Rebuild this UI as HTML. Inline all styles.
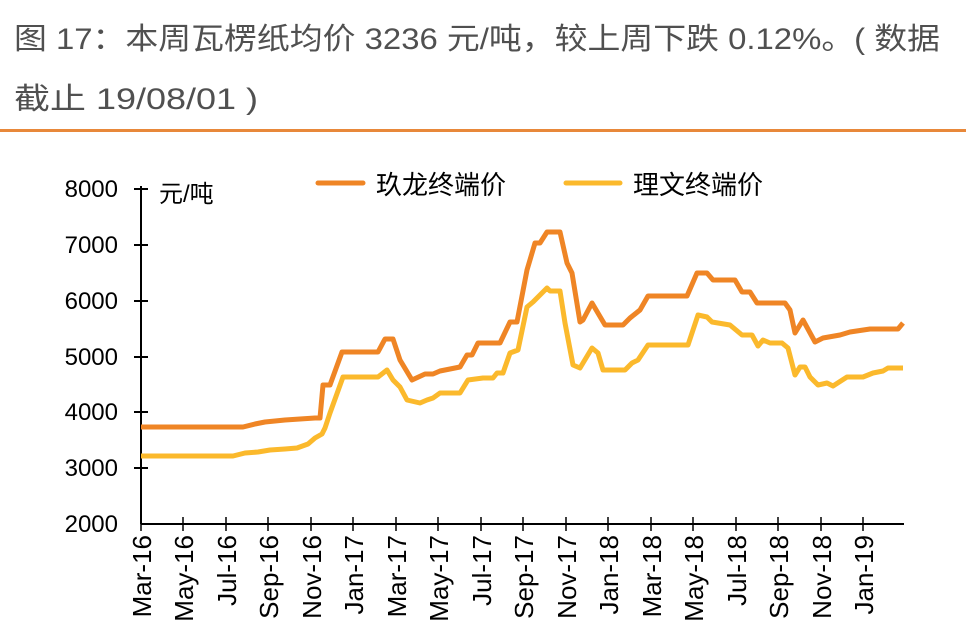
<!DOCTYPE html>
<html><head><meta charset="utf-8"><style>
body{margin:0;background:#fff;width:966px;height:638px;overflow:hidden}
svg{display:block}
</style></head><body>
<svg width="966" height="638" xmlns="http://www.w3.org/2000/svg" font-family="Liberation Sans, Noto Sans CJK SC, sans-serif">
<text x="14" y="49" font-size="30" fill="#505050" textLength="926" lengthAdjust="spacingAndGlyphs">图 17：本周瓦楞纸均价 3236 元/吨，较上周下跌 0.12%。( 数据</text>
<text x="14" y="109" font-size="30" fill="#505050" textLength="244" lengthAdjust="spacingAndGlyphs">截止 19/08/01 )</text>
<rect x="0" y="129" width="966" height="3" fill="#e8883a"/>
<g font-size="24" fill="#000" text-anchor="end">
<text x="118" y="197">8000</text><text x="118" y="253">7000</text><text x="118" y="309">6000</text>
<text x="118" y="365">5000</text><text x="118" y="420">4000</text><text x="118" y="476">3000</text><text x="118" y="532">2000</text>
</g>
<text x="159" y="202" font-size="24" fill="#000">元/吨</text>
<g stroke="#000" stroke-width="2">
<line x1="141" y1="186" x2="141" y2="524"/>
<line x1="141" y1="524" x2="904" y2="524"/>
<line x1="134" y1="189" x2="148" y2="189"/><line x1="134" y1="245" x2="148" y2="245"/><line x1="134" y1="301" x2="148" y2="301"/>
<line x1="134" y1="357" x2="148" y2="357"/><line x1="134" y1="412" x2="148" y2="412"/><line x1="134" y1="468" x2="148" y2="468"/>
</g>
<g stroke="#000" stroke-width="1.5">
<line x1="183" y1="517" x2="183" y2="531"/><line x1="226" y1="517" x2="226" y2="531"/><line x1="268" y1="517" x2="268" y2="531"/><line x1="311" y1="517" x2="311" y2="531"/><line x1="353" y1="517" x2="353" y2="531"/><line x1="396" y1="517" x2="396" y2="531"/><line x1="438" y1="517" x2="438" y2="531"/><line x1="481" y1="517" x2="481" y2="531"/><line x1="523" y1="517" x2="523" y2="531"/><line x1="566" y1="517" x2="566" y2="531"/><line x1="608" y1="517" x2="608" y2="531"/><line x1="651" y1="517" x2="651" y2="531"/><line x1="693" y1="517" x2="693" y2="531"/><line x1="736" y1="517" x2="736" y2="531"/><line x1="778" y1="517" x2="778" y2="531"/><line x1="821" y1="517" x2="821" y2="531"/><line x1="863" y1="517" x2="863" y2="531"/><line x1="141" y1="524" x2="141" y2="531"/>
</g>
<g font-size="26" fill="#000" text-anchor="end">
<text transform="translate(151,535) rotate(-90)">Mar-16</text>
<text transform="translate(193,535) rotate(-90)">May-16</text>
<text transform="translate(236,535) rotate(-90)">Jul-16</text>
<text transform="translate(278,535) rotate(-90)">Sep-16</text>
<text transform="translate(321,535) rotate(-90)">Nov-16</text>
<text transform="translate(363,535) rotate(-90)">Jan-17</text>
<text transform="translate(406,535) rotate(-90)">Mar-17</text>
<text transform="translate(448,535) rotate(-90)">May-17</text>
<text transform="translate(491,535) rotate(-90)">Jul-17</text>
<text transform="translate(533,535) rotate(-90)">Sep-17</text>
<text transform="translate(576,535) rotate(-90)">Nov-17</text>
<text transform="translate(618,535) rotate(-90)">Jan-18</text>
<text transform="translate(661,535) rotate(-90)">Mar-18</text>
<text transform="translate(703,535) rotate(-90)">May-18</text>
<text transform="translate(746,535) rotate(-90)">Jul-18</text>
<text transform="translate(788,535) rotate(-90)">Sep-18</text>
<text transform="translate(831,535) rotate(-90)">Nov-18</text>
<text transform="translate(873,535) rotate(-90)">Jan-19</text>
</g>
<line x1="318" y1="183" x2="363" y2="183" stroke="#ef8525" stroke-width="5" stroke-linecap="round"/>
<text x="376" y="194" font-size="26" fill="#000">玖龙终端价</text>
<line x1="566" y1="183" x2="620" y2="183" stroke="#fbb92c" stroke-width="5" stroke-linecap="round"/>
<text x="633" y="194" font-size="26" fill="#000">理文终端价</text>
<g fill="none" stroke-width="5" stroke-linejoin="round">
<polyline stroke="#fbb92c" points="141,456 233,456 245,453 258,452 270,450 285,449 297,448 308,444 315,438 322,434 325,428 330,413 343,377 378,377 387,370 393,380 400,387 407,400 420,403 427,400 433,398 440,393 460,393 468,380 483,378 493,378 497,373 503,373 510,353 518,350 527,307 533,302 538,297 547,288 550,291 560,291 565,323 573,365 580,368 592,348 598,353 603,370 625,370 632,363 638,360 648,345 688,345 698,315 707,317 712,322 730,325 742,335 752,335 758,346 763,340 770,343 782,343 788,348 795,375 800,367 805,367 810,377 818,385 827,383 833,386 847,377 863,377 873,373 883,371 888,368 903,368"/>
<polyline stroke="#ef8525" points="141,427 243,427 255,424 265,422 285,420 300,419 315,418 320,418 323,385 330,385 342,352 378,352 385,339 393,339 400,360 412,380 425,374 433,374 440,371 460,367 467,355 472,355 478,343 500,343 510,322 517,322 527,270 535,243 540,243 547,232 560,232 567,263 572,273 580,322 583,320 592,303 605,325 623,325 630,318 640,310 648,296 687,296 697,273 707,273 713,280 735,280 742,292 750,292 757,303 785,303 790,310 795,333 803,320 815,342 823,338 840,335 850,332 870,329 898,329 903,323"/>
</g>
</svg>
</body></html>
